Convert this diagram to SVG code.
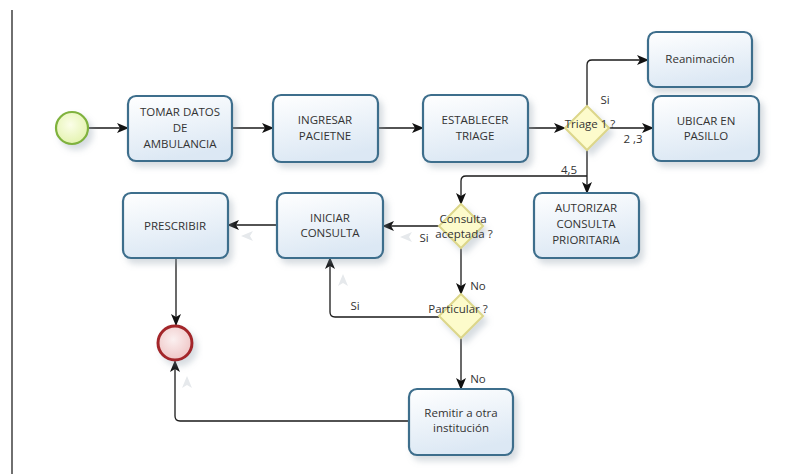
<svg xmlns="http://www.w3.org/2000/svg" width="793" height="474" viewBox="0 0 793 474">
  <defs>
    <linearGradient id="taskFill" x1="0" y1="0" x2="0.3" y2="1">
      <stop offset="0" stop-color="#ffffff"/>
      <stop offset="1" stop-color="#dce8f4"/>
    </linearGradient>
    <radialGradient id="startFill" cx="0.45" cy="0.4" r="0.6">
      <stop offset="0" stop-color="#fbfee8"/>
      <stop offset="1" stop-color="#e4f3b0"/>
    </radialGradient>
    <radialGradient id="endFill" cx="0.45" cy="0.4" r="0.6">
      <stop offset="0" stop-color="#fbf0f0"/>
      <stop offset="1" stop-color="#efc6c6"/>
    </radialGradient>
    <filter id="shadow" x="-20%" y="-20%" width="150%" height="160%">
      <feDropShadow dx="4" dy="5" stdDeviation="3" flood-color="#8a9aa8" flood-opacity="0.35"/>
    </filter>
    <marker id="arrow" viewBox="0 0 12 10" refX="11" refY="5" markerWidth="12" markerHeight="10" markerUnits="userSpaceOnUse" orient="auto">
      <path d="M0,0 L12,5 L0,10 L3,5 Z" fill="#111"/>
    </marker>
    <marker id="ghost" viewBox="0 0 12 10" refX="11" refY="5" markerWidth="12" markerHeight="10" markerUnits="userSpaceOnUse" orient="auto">
      <path d="M0,0 L12,5 L0,10 L3,5 Z" fill="#e6e9ec"/>
    </marker>
  </defs>
  <style>
    .task rect { fill: url(#taskFill); stroke: #3d6e8c; stroke-width: 2.2; filter: url(#shadow); }
    .task text, .lbl { font-family: "Open Sans", "DejaVu Sans", sans-serif; font-size: 11.5px; fill: #333; text-anchor: middle; }
    .lbl { font-size: 11.5px; }
    .gw polygon { fill: #fdfbcb; stroke: #dcd68a; stroke-width: 2; filter: url(#shadow); }
    .gw text { font-family: "Open Sans", "DejaVu Sans", sans-serif; font-size: 11.5px; fill: #333; text-anchor: middle; }
    #connectors path { fill: none; stroke: #1a1a1a; stroke-width: 1.3; marker-end: url(#arrow); }
    #ghosts path { fill: none; stroke: none; marker-end: url(#ghost); }
  </style>

  <rect x="0" y="0" width="793" height="474" fill="#ffffff"/>
  <!-- lane border -->
  <line x1="12" y1="10" x2="12" y2="474" stroke="#222" stroke-width="1.3"/>

  <!-- faint shadow arrowheads -->
  <g id="ghosts">
    <path d="M420,237 L401,237"/>
    <path d="M260,236 L242,236"/>
    <path d="M343,295 L343,275"/>
    <path d="M187,395 L187,377"/>
  </g>

  <g id="connectors">
    <path d="M89,128 L128,128"/>
    <path d="M232,128 L273,128"/>
    <path d="M378,128 L423,128"/>
    <path d="M528,128 L565,128"/>
    <path d="M587,106 L587,65 Q587,60 592,60 L648,60"/>
    <path d="M609,128 L653,128"/>
    <path d="M587,150 L587,193"/>
    <path d="M587,176 L466,176 Q461,176 461,181 L461,204"/>
    <path d="M439,226 L383,226"/>
    <path d="M461,248 L461,294"/>
    <path d="M277,225 L228,225"/>
    <path d="M439,317 L335,317 Q330,317 330,312 L330,258"/>
    <path d="M461,338 L461,389"/>
    <path d="M176,258 L176,325"/>
    <path d="M409,421 L180,421 Q175,421 175,416 L175,361"/>
  </g>

  <!-- connector labels -->
  <text class="lbl" x="605" y="104">Si</text>
  <text class="lbl" x="633" y="143">2 ,3</text>
  <text class="lbl" x="569" y="174">4,5</text>
  <text class="lbl" x="424" y="242">Si</text>
  <text class="lbl" x="478" y="290">No</text>
  <text class="lbl" x="355" y="310">Si</text>
  <text class="lbl" x="478" y="383">No</text>

  <g id="start">
    <circle cx="72" cy="128" r="16" fill="url(#startFill)" stroke="#7fb23c" stroke-width="2.2" filter="url(#shadow)"/>
  </g>

  <g id="tomarDatos" class="task">
    <rect x="128" y="96" width="104" height="65" rx="8"/>
    <text x="180" y="116">TOMAR DATOS</text>
    <text x="180" y="132">DE</text>
    <text x="180" y="148">AMBULANCIA</text>
  </g>

  <g id="ingresarPaciente" class="task">
    <rect x="273" y="95" width="105" height="67" rx="8"/>
    <text x="325" y="124">INGRESAR</text>
    <text x="325" y="140">PACIETNE</text>
  </g>

  <g id="establecerTriage" class="task">
    <rect x="423" y="95" width="105" height="67" rx="8"/>
    <text x="475" y="124">ESTABLECER</text>
    <text x="475" y="140">TRIAGE</text>
  </g>

  <g id="gwTriage" class="gw">
    <polygon points="587,106 609,128 587,150 565,128"/>
    <text x="590" y="128">Triage 1 ?</text>
  </g>

  <g id="reanimacion" class="task">
    <rect x="648" y="32" width="104" height="55" rx="8"/>
    <text x="700" y="63">Reanimación</text>
  </g>

  <g id="ubicarPasillo" class="task">
    <rect x="653" y="96" width="106" height="65" rx="8"/>
    <text x="706" y="125">UBICAR EN</text>
    <text x="706" y="140">PASILLO</text>
  </g>

  <g id="autorizarConsulta" class="task">
    <rect x="534" y="193" width="105" height="65" rx="8"/>
    <text x="586" y="212">AUTORIZAR</text>
    <text x="586" y="228">CONSULTA</text>
    <text x="586" y="244">PRIORITARIA</text>
  </g>

  <g id="gwConsulta" class="gw">
    <polygon points="461,204 483,226 461,248 439,226"/>
    <text x="463" y="223">Consulta</text>
    <text x="464" y="238">aceptada ?</text>
  </g>

  <g id="iniciarConsulta" class="task">
    <rect x="277" y="193" width="106" height="65" rx="8"/>
    <text x="330" y="222">INICIAR</text>
    <text x="330" y="237">CONSULTA</text>
  </g>

  <g id="prescribir" class="task">
    <rect x="123" y="193" width="105" height="65" rx="8"/>
    <text x="175" y="230">PRESCRIBIR</text>
  </g>

  <g id="gwParticular" class="gw">
    <polygon points="461,294 483,316 461,338 439,316"/>
    <text x="458" y="313">Particular ?</text>
  </g>

  <g id="remitir" class="task">
    <rect x="409" y="389" width="104" height="66" rx="8"/>
    <text x="461" y="417">Remitir a otra</text>
    <text x="461" y="432">institución</text>
  </g>

  <g id="end">
    <circle cx="175" cy="343" r="17" fill="url(#endFill)" stroke="#a3272a" stroke-width="3" filter="url(#shadow)"/>
  </g>
</svg>
